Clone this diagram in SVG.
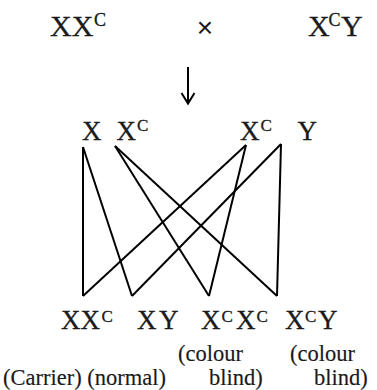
<svg xmlns="http://www.w3.org/2000/svg" width="377" height="390" viewBox="0 0 377 390">
<style>
.t{font-family:"Liberation Serif","DejaVu Serif","Times New Roman",serif;fill:#1a1a1a;stroke:#1a1a1a;stroke-width:0.3}
.big{font-size:30px}
.mid{font-size:27px}
.sup1{font-size:18px}
.sup2{font-size:17px}
.lab{font-size:22.5px;stroke-width:0.15}
.ln{stroke:#000;stroke-width:2;fill:none;stroke-linejoin:miter}
</style>
<rect width="377" height="390" fill="#fff"/>
<g id="parent-female">
<text class="t big" x="50" y="36">XX</text>
<text class="t sup1" x="94" y="26">C</text>
</g>
<g id="cross">
<text x="205" y="37" font-family="Liberation Sans,Arial,sans-serif" font-size="28" fill="#1a1a1a" text-anchor="middle">×</text>
</g>
<g id="parent-male">
<text class="t big" x="308" y="36">X</text>
<text class="t sup1" x="328.5" y="26">C</text>
<text class="t big" x="341" y="36">Y</text>
</g>
<g id="arrow">
<line class="ln" x1="188" y1="67" x2="188" y2="103" stroke-width="1.8"/>
<polyline class="ln" points="181.5,93 188,103.5 194.5,93" stroke-width="1.8"/>
</g>
<g id="gamete-X">
<text class="t mid" x="82" y="140">X</text>
</g>
<g id="gamete-XC1">
<text class="t mid" x="116.5" y="140">X</text>
<text class="t sup2" x="137" y="131">C</text>
</g>
<g id="gamete-XC2">
<text class="t mid" x="240" y="140">X</text>
<text class="t sup2" x="260.5" y="131">C</text>
</g>
<g id="gamete-Y">
<text class="t mid" x="297.5" y="140">Y</text>
</g>
<g id="connectors">
<line class="ln" x1="83" y1="147" x2="83" y2="296"/>
<line class="ln" x1="83" y1="147" x2="132" y2="296"/>
<line class="ln" x1="115" y1="146" x2="209" y2="296"/>
<line class="ln" x1="115" y1="146" x2="277" y2="296"/>
<line class="ln" x1="246" y1="145" x2="83" y2="296"/>
<line class="ln" x1="246" y1="145" x2="209" y2="296"/>
<line class="ln" x1="281" y1="144" x2="132" y2="296"/>
<line class="ln" x1="281" y1="144" x2="277" y2="296"/>
</g>
<g id="offspring-XXC">
<text class="t mid" x="61" y="329">XX</text>
<text class="t sup2" x="101.5" y="322">C</text>
</g>
<g id="offspring-XY">
<text class="t mid" x="137" y="329">X</text>
<text class="t mid" x="159" y="329">Y</text>
</g>
<g id="offspring-XCXC">
<text class="t mid" x="201" y="329">X</text>
<text class="t sup2" x="221.5" y="322">C</text>
<text class="t mid" x="236" y="329">X</text>
<text class="t sup2" x="256.5" y="322">C</text>
</g>
<g id="offspring-XCY">
<text class="t mid" x="285" y="329">X</text>
<text class="t sup2" x="305" y="322">C</text>
<text class="t mid" x="318" y="329">Y</text>
</g>
<g id="labels">
<text class="t lab" x="3" y="384.5">(Carrier) (normal)</text>
<text class="t lab" x="178" y="361">(colour</text>
<text class="t lab" x="209" y="384.5">blind)</text>
<text class="t lab" x="290" y="361">(colour</text>
<text class="t lab" x="314" y="385">blind)</text>
</g>
</svg>
